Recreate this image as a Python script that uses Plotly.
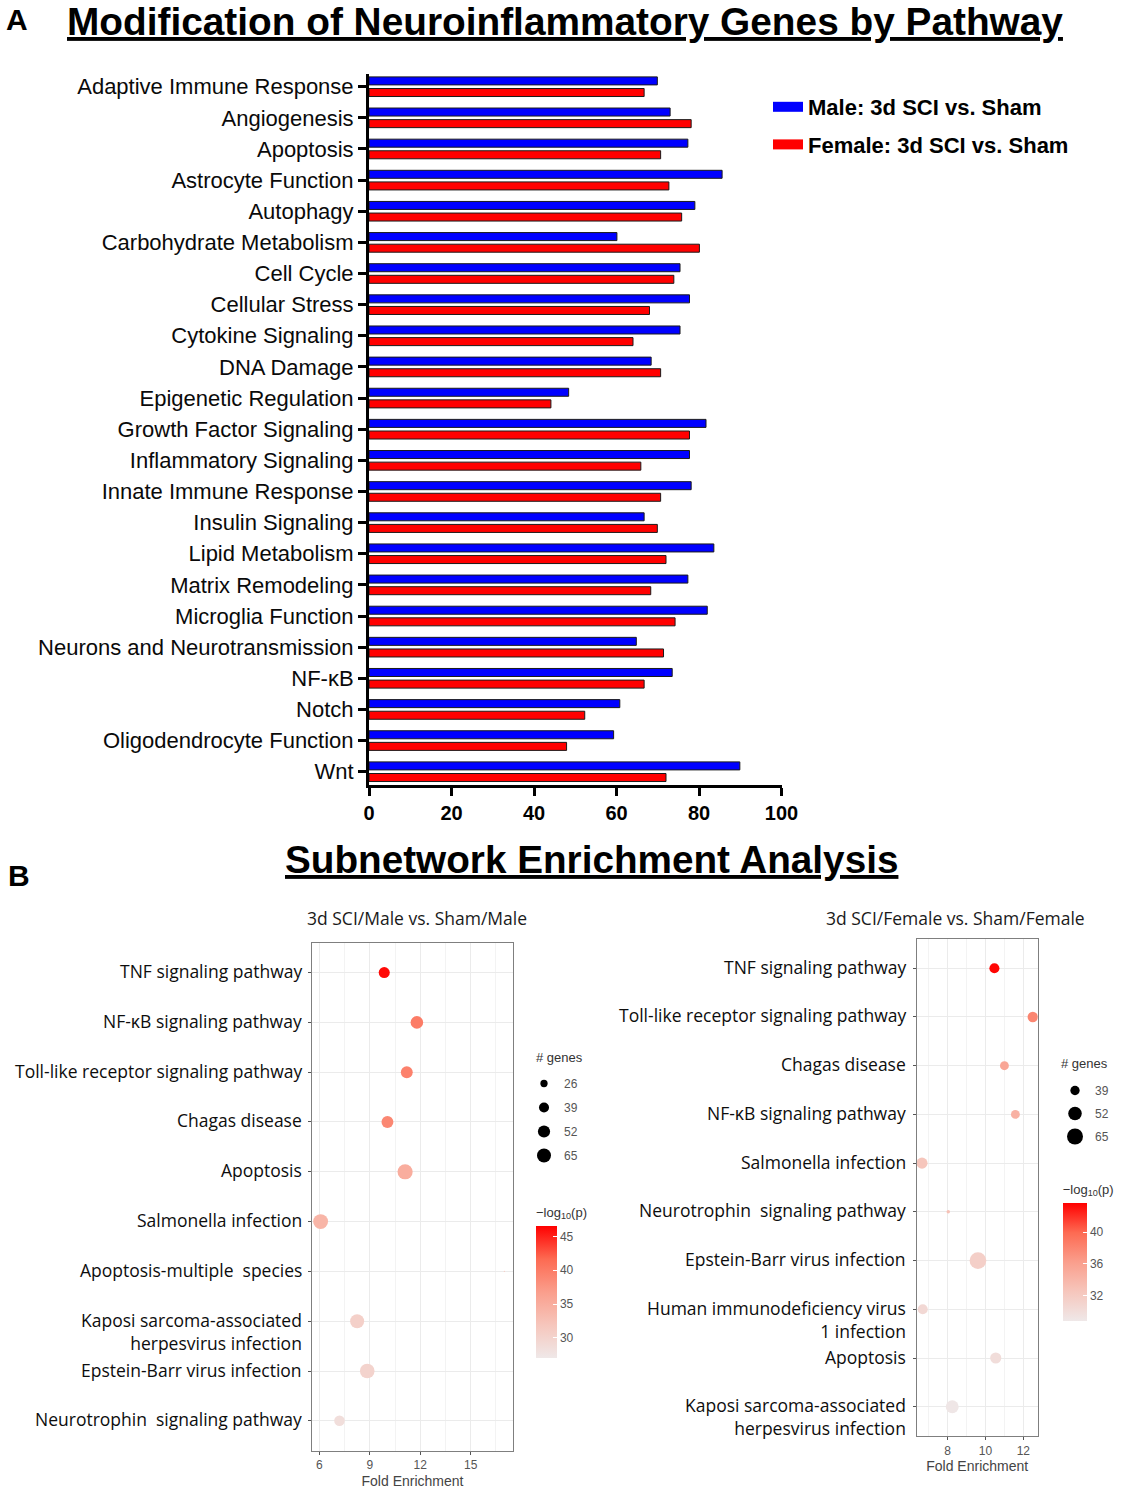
import numpy as np
import plotly.graph_objects as go

# ---------------- Panel A data ----------------
pathways = ["Adaptive Immune Response", "Angiogenesis", "Apoptosis", "Astrocyte Function",
            "Autophagy", "Carbohydrate Metabolism", "Cell Cycle", "Cellular Stress",
            "Cytokine Signaling", "DNA Damage", "Epigenetic Regulation", "Growth Factor Signaling",
            "Inflammatory Signaling", "Innate Immune Response", "Insulin Signaling",
            "Lipid Metabolism", "Matrix Remodeling", "Microglia Function",
            "Neurons and Neurotransmission", "NF-κB", "Notch", "Oligodendrocyte Function", "Wnt"]
male_vals = [69.9, 73.0, 77.3, 85.6, 79.0, 60.1, 75.4, 77.7, 75.4, 68.4, 48.4, 81.7,
             77.7, 78.1, 66.7, 83.6, 77.3, 82.0, 64.8, 73.5, 60.8, 59.3, 89.9]
female_vals = [66.7, 78.1, 70.7, 72.7, 75.8, 80.1, 73.9, 68.0, 64.0, 70.7, 44.1, 77.7,
               65.9, 70.7, 69.9, 72.0, 68.3, 74.2, 71.4, 66.7, 52.3, 47.9, 72.0]
bar_ticks = [0, 20, 40, 60, 80, 100]

# ---------------- Panel B data ----------------
terms_m = ["TNF signaling pathway", "NF-κB signaling pathway", "Toll-like receptor signaling pathway",
           "Chagas disease", "Apoptosis", "Salmonella infection", "Apoptosis-multiple  species",
           "Kaposi sarcoma-associated<br>herpesvirus infection", "Epstein-Barr virus infection",
           "Neurotrophin  signaling pathway"]
fold_m = [9.86, 11.8, 11.2, 10.05, 11.1, 6.08, 17.0, 8.25, 8.85, 7.2]
genes_m = [45, 55, 50, 50, 74, 72, 12, 65, 70, 42]
logp_m = [46.2, 40.0, 39.5, 39.0, 35.0, 34.0, 31.0, 30.5, 30.0, 28.5]
size_legend_m = [26, 39, 52, 65]
cbar_ticks_m = [30, 35, 40, 45]
fold_ticks_m = [6, 9, 12, 15]

terms_f = ["TNF signaling pathway", "Toll-like receptor signaling pathway", "Chagas disease",
           "NF-κB signaling pathway", "Salmonella infection", "Neurotrophin  signaling pathway",
           "Epstein-Barr virus infection", "Human immunodeficiency virus<br>1 infection",
           "Apoptosis", "Kaposi sarcoma-associated<br>herpesvirus infection"]
fold_f = [10.47, 12.5, 11.0, 11.58, 6.64, 8.03, 9.6, 6.68, 10.54, 8.24]
genes_f = [41, 42, 38, 38, 44, 29, 65, 41, 44, 50]
logp_f = [43.5, 38.0, 35.5, 34.5, 32.5, 33.0, 31.5, 30.5, 30.0, 29.0]
size_legend_f = [39, 52, 65]
cbar_ticks_f = [32, 36, 40]
fold_ticks_f = [8, 10, 12]

W, H = 1137, 1500
def px_x(p): return p / W
def px_y(p): return 1 - p / H

def size_m(n): return np.sqrt(np.maximum(3.67 * np.asarray(n, float) - 42.6, 1.0))
def size_f(n): return np.sqrt(np.maximum(7.42 * np.asarray(n, float) - 203.0, 1.0))

ARIAL = "Liberation Sans, Arial, sans-serif"
SANS = "Open Sans, Noto Sans, sans-serif"

colorscale = [[0.0, "#EFE8E8"], [0.25, "#F6C6BC"], [0.5, "#FA9E8C"],
              [0.75, "#FD6A52"], [1.0, "#FF0000"]]

fig = go.Figure()

# Panel A bars
fig.add_trace(go.Bar(y=pathways, x=male_vals, orientation="h", name="Male: 3d SCI vs. Sham",
                     marker=dict(color="#0000FF", line=dict(color="#1a1a1a", width=1)),
                     showlegend=False, xaxis="x", yaxis="y"))
fig.add_trace(go.Bar(y=pathways, x=female_vals, orientation="h", name="Female: 3d SCI vs. Sham",
                     marker=dict(color="#FF0000", line=dict(color="#1a1a1a", width=1)),
                     showlegend=False, xaxis="x", yaxis="y"))
# legend swatches
for nm, col, g in [("Male: 3d SCI vs. Sham", "#0000FF", "a1"), ("Female: 3d SCI vs. Sham", "#FF0000", "a2")]:
    fig.add_trace(go.Scatter(x=[None], y=[None], mode="lines", name=nm, legendgroup=g,
                             line=dict(color=col, width=14), xaxis="x", yaxis="y",
                             showlegend=True, legend="legend"))

# Panel B scatter
fig.add_trace(go.Scatter(x=fold_m, y=terms_m, mode="markers", xaxis="x2", yaxis="y2",
                         marker=dict(size=size_m(genes_m), color=logp_m, coloraxis="coloraxis",
                                     line=dict(width=0), opacity=1),
                         showlegend=False))
fig.add_trace(go.Scatter(x=fold_f, y=terms_f, mode="markers", xaxis="x3", yaxis="y3",
                         marker=dict(size=size_f(genes_f), color=logp_f, coloraxis="coloraxis2",
                                     line=dict(width=0), opacity=1),
                         showlegend=False))
# size legends
for n in size_legend_m:
    fig.add_trace(go.Scatter(x=[None], y=[None], mode="markers", name=str(n), legend="legend2",
                             legendgroup="m%d" % n, xaxis="x2", yaxis="y2",
                             marker=dict(size=float(size_m(n)), color="black")))
for n in size_legend_f:
    fig.add_trace(go.Scatter(x=[None], y=[None], mode="markers", name=str(n), legend="legend3",
                             legendgroup="f%d" % n, xaxis="x3", yaxis="y3",
                             marker=dict(size=float(size_f(n)), color="black")))

n_cat = len(pathways)
fig.update_layout(
    width=W, height=H, autosize=False, margin=dict(l=0, r=0, t=0, b=0, autoexpand=False),
    paper_bgcolor="white", plot_bgcolor="white",
    barmode="group", bargap=0.254, bargroupgap=0.31,
    font=dict(family=ARIAL, color="black"),
    xaxis=dict(domain=[px_x(369), px_x(781.5)], range=[0, 100], tickvals=bar_ticks,
               showgrid=False, zeroline=False, showline=True, linewidth=3, linecolor="black",
               ticks="outside", ticklen=8, tickwidth=2.5, tickcolor="black",
               tickfont=dict(size=20, family=ARIAL, weight="bold", color="black"), anchor="y"),
    yaxis=dict(domain=[px_y(785), px_y(74)], type="category", categoryarray=pathways,
               range=[n_cat - 1 + 0.427, -0.408], showgrid=False, zeroline=False,
               showline=True, linewidth=3, linecolor="black",
               ticks="outside", ticklen=8, tickwidth=2.5, tickcolor="black",
               tickfont=dict(size=22, family=ARIAL, color="#0a0a0a"), anchor="x"),
    xaxis2=dict(domain=[px_x(311.7), px_x(513.3)], range=[5.55, 17.53], tickvals=fold_ticks_m,
                showgrid=True, gridcolor="#EBEBEB", gridwidth=1, zeroline=False,
                minor=dict(dtick=1.5, tick0=6, showgrid=True, gridcolor="#F3F3F3", gridwidth=0.6),
                showline=True, mirror=True, linecolor="#7F7F7F", linewidth=1.2,
                ticks="outside", ticklen=3, tickcolor="#555",
                tickfont=dict(size=12, family=ARIAL, color="#555"),
                title=dict(text="Fold Enrichment", font=dict(size=14, family=ARIAL, color="#444"), standoff=4),
                anchor="y2"),
    yaxis2=dict(domain=[px_y(1450.7), px_y(942.7)], type="category", categoryarray=terms_m,
                range=[9.6, -0.6], showgrid=True, gridcolor="#EBEBEB", zeroline=False,
                showline=True, mirror=True, linecolor="#7F7F7F", linewidth=1.2,
                ticks="outside", ticklen=3, tickcolor="#555", showticklabels=False, anchor="x2"),
    xaxis3=dict(domain=[px_x(916.7), px_x(1037.7)], range=[6.36, 12.76], tickvals=fold_ticks_f,
                showgrid=True, gridcolor="#EBEBEB", gridwidth=1, zeroline=False,
                minor=dict(dtick=1, tick0=6, showgrid=True, gridcolor="#F3F3F3", gridwidth=0.6),
                showline=True, mirror=True, linecolor="#7F7F7F", linewidth=1.2,
                ticks="outside", ticklen=3, tickcolor="#555",
                tickfont=dict(size=12, family=ARIAL, color="#555"),
                title=dict(text="Fold Enrichment", font=dict(size=14, family=ARIAL, color="#444"), standoff=4),
                anchor="y3"),
    yaxis3=dict(domain=[px_y(1436), px_y(939)], type="category", categoryarray=terms_f,
                range=[9.6, -0.6], showgrid=True, gridcolor="#EBEBEB", zeroline=False,
                showline=True, mirror=True, linecolor="#7F7F7F", linewidth=1.2,
                ticks="outside", ticklen=3, tickcolor="#555", showticklabels=False, anchor="x3"),
    coloraxis=dict(colorscale=colorscale, cmin=27.0, cmax=46.6,
                   colorbar=dict(x=px_x(536), xanchor="left", y=px_y(1281), yanchor="middle",
                                 len=154, lenmode="pixels", thickness=21, xpad=0, ypad=0,
                                 outlinewidth=0, tickvals=cbar_ticks_m, ticks="inside",
                                 ticklen=4, tickcolor="white",
                                 tickfont=dict(size=12, family=ARIAL, color="#555"),
                                 title=dict(text="\u2212log<sub>10</sub>(p)", side="top",
                                            font=dict(size=13, family=ARIAL, color="#333")))),
    coloraxis2=dict(colorscale=colorscale, cmin=28.8, cmax=43.7,
                    colorbar=dict(x=px_x(1062.7), xanchor="left", y=px_y(1251), yanchor="middle",
                                  len=140, lenmode="pixels", thickness=24, xpad=0, ypad=0,
                                  outlinewidth=0, tickvals=cbar_ticks_f, ticks="inside",
                                  ticklen=4, tickcolor="white",
                                  tickfont=dict(size=12, family=ARIAL, color="#555"),
                                  title=dict(text="\u2212log<sub>10</sub>(p)", side="top",
                                             font=dict(size=13, family=ARIAL, color="#333")))),
    legend=dict(x=px_x(768), y=px_y(86), xanchor="left", yanchor="top",
                font=dict(size=22, family=ARIAL, weight="bold", color="black"),
                tracegroupgap=6, bgcolor="rgba(0,0,0,0)"),
    legend2=dict(x=px_x(524), y=px_y(1069), xanchor="left", yanchor="top",
                 font=dict(size=12, family=ARIAL, color="#555"), itemsizing="trace",
                 tracegroupgap=5, bgcolor="rgba(0,0,0,0)"),
    legend3=dict(x=px_x(1055), y=px_y(1076), xanchor="left", yanchor="top",
                 font=dict(size=12, family=ARIAL, color="#555"), itemsizing="trace",
                 tracegroupgap=4, bgcolor="rgba(0,0,0,0)"),
)

ann = []
def pa(text, x, y, size, family=ARIAL, color="black", xanchor="center"):
    return dict(text=text, x=px_x(x), y=px_y(y), xref="paper", yref="paper",
                xanchor=xanchor, yanchor="middle", showarrow=False, borderpad=0,
                font=dict(size=size, family=family, color=color))

ann.append(pa("<b>A</b>", 17, 19.5, 30))
ann.append(pa("<b>B</b>", 19, 875, 30))
ann.append(pa("<b><u>Modification of Neuroinflammatory Genes by Pathway</u></b>", 565, 21, 38.8))
ann.append(pa("<b><u>Subnetwork Enrichment Analysis</u></b>", 591, 859, 38.7))
ann.append(pa("3d SCI/Male vs. Sham/Male", 417, 918, 17.5, SANS, "#1a1a1a"))
ann.append(pa("3d SCI/Female vs. Sham/Female", 955, 918, 17.5, SANS, "#1a1a1a"))
ann.append(pa("# genes", 535, 1057, 13, ARIAL, "#333", "left"))
ann.append(pa("# genes", 1060, 1063, 13, ARIAL, "#333", "left"))
for t in terms_m:
    ann.append(dict(text=t, x=0, xref="x2 domain", y=t, yref="y2", xanchor="right", yanchor="top",
                    align="right", xshift=-8, yshift=15.5, showarrow=False,
                    font=dict(size=17.5, family=SANS, color="#0d0d0d")))
for t in terms_f:
    ann.append(dict(text=t, x=0, xref="x3 domain", y=t, yref="y3", xanchor="right", yanchor="top",
                    align="right", xshift=-9, yshift=15.5, showarrow=False,
                    font=dict(size=17.5, family=SANS, color="#0d0d0d")))
fig.update_layout(annotations=ann)

fig.write_html("out.html",
               config={"responsive": False, "displayModeBar": False},
               post_script="document.body.style.margin='0px';document.body.style.overflow='hidden';")
